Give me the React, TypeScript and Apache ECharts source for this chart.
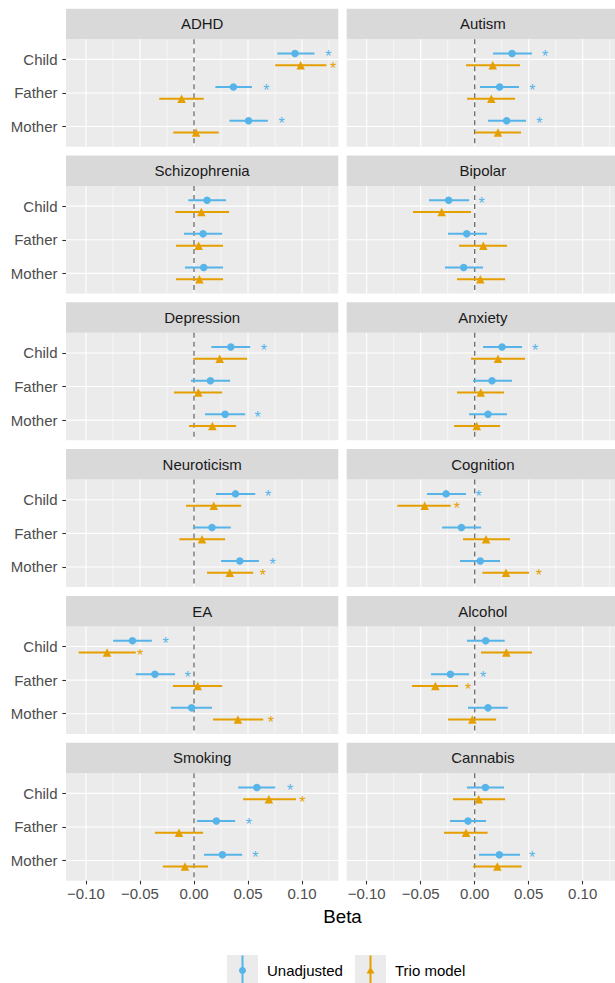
import React, { useEffect, useRef } from 'react';
import * as echarts from 'echarts';

const facets = ['ADHD', 'Autism', 'Schizophrenia', 'Bipolar', 'Depression', 'Anxiety', 'Neuroticism', 'Cognition', 'EA', 'Alcohol', 'Smoking', 'Cannabis'];
const roles = ['Child', 'Father', 'Mother'];
const seriesNames = ['Unadjusted', 'Trio model'];

// Unadjusted: estimate, lower, upper, asterisk position (null = not significant)
const unadjEst = [
  [0.0935, 0.0365, 0.0505], [0.0346, 0.0231, 0.0296], [0.0121, 0.0084, 0.009], [-0.0241, -0.0074, -0.0102],
  [0.0341, 0.0152, 0.0288], [0.0253, 0.016, 0.0123], [0.0384, 0.0167, 0.0424], [-0.0265, -0.0123, 0.0052],
  [-0.057, -0.0362, -0.0022], [0.0102, -0.0225, 0.0123], [0.0582, 0.0207, 0.0263], [0.0099, -0.0062, 0.0228],
];
const unadjLo = [
  [0.0771, 0.0198, 0.0328], [0.017, 0.0049, 0.0123], [-0.0053, -0.0093, -0.0084], [-0.0423, -0.0247, -0.0275],
  [0.0161, -0.0028, 0.0102], [0.0077, -0.0015, -0.0052], [0.0204, -0.0006, 0.0251], [-0.0441, -0.0302, -0.0136],
  [-0.0749, -0.0539, -0.0214], [-0.0071, -0.0404, -0.0062], [0.0409, 0.0028, 0.0093], [-0.0071, -0.0228, 0.004],
];
const unadjHi = [
  [0.1115, 0.0536, 0.0684], [0.0531, 0.041, 0.0475], [0.0297, 0.026, 0.0269], [-0.0052, 0.0114, 0.0077],
  [0.052, 0.0334, 0.0474], [0.0438, 0.0346, 0.0299], [0.0567, 0.0341, 0.0601], [-0.008, 0.0059, 0.0235],
  [-0.039, -0.0176, 0.0167], [0.0278, -0.0052, 0.0306], [0.0752, 0.0381, 0.0446], [0.0272, 0.0105, 0.042],
];
const unadjStar = [
  [0.1245, 0.0669, 0.0811], [0.0651, 0.0534, 0.0599], [null, null, null], [0.0065, null, null],
  [0.0647, null, 0.0588], [0.0559, null, null], [0.0687, null, 0.0728], [0.0037, null, null],
  [-0.0263, -0.0059, null], [null, 0.0077, null], [0.0889, 0.0508, 0.0567], [null, null, 0.0531],
];

// Trio model
const trioEst = [
  [0.0988, -0.0115, 0.0019], [0.0167, 0.0154, 0.0216], [0.0068, 0.0043, 0.005], [-0.0306, 0.008, 0.0052],
  [0.0238, 0.004, 0.017], [0.0216, 0.0056, 0.0019], [0.0183, 0.0074, 0.0331], [-0.0463, 0.0105, 0.029],
  [-0.0805, 0.0034, 0.0406], [0.0293, -0.0364, -0.0022], [0.0693, -0.0139, -0.0084], [0.0037, -0.008, 0.021],
];
const trioLo = [
  [0.0752, -0.0322, -0.0192], [-0.008, -0.0071, 0.0003], [-0.0173, -0.0167, -0.0167], [-0.0571, -0.0145, -0.0164],
  [-0.0006, -0.0186, -0.0046], [-0.0034, -0.0164, -0.0191], [-0.0074, -0.0136, 0.0121], [-0.0716, -0.0108, 0.0071],
  [-0.1068, -0.0195, 0.0176], [0.0059, -0.058, -0.0247], [0.0455, -0.0362, -0.0288], [-0.0201, -0.0284, -0.0015],
];
const trioHi = [
  [0.1226, 0.009, 0.0229], [0.042, 0.0373, 0.0429], [0.0325, 0.0269, 0.0269], [-0.0034, 0.0299, 0.0281],
  [0.0492, 0.026, 0.039], [0.0466, 0.0272, 0.0235], [0.0437, 0.0288, 0.0548], [-0.0222, 0.0327, 0.0503],
  [-0.0539, 0.026, 0.0641], [0.0531, -0.0154, 0.0198], [0.0944, 0.0084, 0.013], [0.0281, 0.012, 0.0435],
];
const trioStar = [
  [0.1288, null, null], [null, null, null], [null, null, null], [null, null, null],
  [null, null, null], [null, null, null], [null, null, 0.0638], [-0.0164, null, 0.0593],
  [-0.0498, null, 0.0712], [null, -0.0062, null], [0.1003, null, null], [null, null, null],
];

const xMajor = [-0.1, -0.05, 0, 0.05, 0.1];
const xMinor = [-0.075, -0.025, 0.025, 0.075, 0.125];
const yTicks = [1, 2, 3];

const BLUE = '#56B4E9';
const ORANGE = '#E69F00';
const FONT = '"Liberation Sans", Arial, Helvetica, sans-serif';

const X_MIN = -0.1185;
const X_MAX = 0.1336;
const Y_MIN = 0.4;
const Y_MAX = 3.6;
const DODGE = 0.175;

const COL_LEFT = [66, 346.7];
const PANEL_W = 272.3;
const ROW0 = 8.7;
const ROW_STEP = 146.8;
const STRIP_H = 30.5;
const PANEL_H = 107.5;

const circleIcon = (() => {
  const cx = 3.5, cy = 15, r = 3.5, k = 0.5523 * r;
  return `path://M2.5,0H4.5V30H2.5Z M${cx},${cy - r} C${cx + k},${cy - r} ${cx + r},${cy - k} ${cx + r},${cy} C${cx + r},${cy + k} ${cx + k},${cy + r} ${cx},${cy + r} C${cx - k},${cy + r} ${cx - r},${cy + k} ${cx - r},${cy} C${cx - r},${cy - k} ${cx - k},${cy - r} ${cx},${cy - r} Z`;
})();
const triangleIcon = 'path://M3,0H5V30H3Z M4,11 L8,18 L0,18 Z';

function fmtX(v: number) {
  if (Math.abs(v) < 1e-9) return '0.00';
  return v.toFixed(2).replace('-', '\u2212');
}

function buildOption() {
  const grid: any[] = [];
  const xAxis: any[] = [];
  const yAxis: any[] = [];
  const series: any[] = [];
  const graphic: any[] = [];

  facets.forEach((name, k) => {
    const row = Math.floor(k / 2);
    const col = k % 2;
    const stripTop = ROW0 + row * ROW_STEP;
    const left = COL_LEFT[col];
    grid.push({
      left, top: stripTop + STRIP_H, width: PANEL_W, height: PANEL_H,
      show: true, backgroundColor: '#EBEBEB', borderWidth: 0, containLabel: false, outerBoundsMode: 'none',
    });
    xAxis.push({
      gridIndex: k, type: 'value', min: X_MIN, max: X_MAX,
      axisLine: { show: false, onZero: false },
      splitLine: { show: false },
      axisTick: { show: row === 5, customValues: xMajor, length: 3.7, lineStyle: { color: '#333333', width: 1.1 } },
      axisLabel: { show: row === 5, customValues: xMajor, formatter: fmtX, color: '#4D4D4D', fontSize: 15, fontFamily: FONT, margin: 5 },
    });
    yAxis.push({
      gridIndex: k, type: 'value', inverse: true, min: Y_MIN, max: Y_MAX,
      axisLine: { show: false, onZero: false },
      splitLine: { show: false },
      axisTick: { show: col === 0, customValues: yTicks, length: 3.7, lineStyle: { color: '#333333', width: 1.1 } },
      axisLabel: {
        show: col === 0, customValues: yTicks,
        formatter: (v: number) => roles[Math.round(v) - 1] ?? '',
        color: '#4D4D4D', fontSize: 15, fontFamily: FONT, margin: 8.5,
      },
    });

    // strip
    graphic.push({
      type: 'rect', z: 0,
      shape: { x: left, y: stripTop, width: PANEL_W, height: STRIP_H },
      style: { fill: '#D9D9D9' },
    });
    graphic.push({
      type: 'text', z: 1, x: left + PANEL_W / 2, y: stripTop + STRIP_H / 2,
      style: { text: name, fill: '#1A1A1A', fontSize: 15, fontFamily: FONT, align: 'center', verticalAlign: 'middle' },
    });

    // gridlines + zero reference line
    series.push({
      type: 'custom', xAxisIndex: k, yAxisIndex: k, silent: true, z: 1,
      data: [[0, 2]],
      renderItem: (_p: any, api: any) => {
        const children: any[] = [];
        const vline = (v: number, w: number) => {
          const a = api.coord([v, Y_MIN]);
          const b = api.coord([v, Y_MAX]);
          children.push({ type: 'line', shape: { x1: a[0], y1: a[1], x2: b[0], y2: b[1] }, style: { stroke: '#FFFFFF', lineWidth: w } });
        };
        xMinor.forEach((v) => vline(v, 0.55));
        xMajor.forEach((v) => vline(v, 1.1));
        yTicks.forEach((v) => {
          const a = api.coord([X_MIN, v]);
          const b = api.coord([X_MAX, v]);
          children.push({ type: 'line', shape: { x1: a[0], y1: a[1], x2: b[0], y2: b[1] }, style: { stroke: '#FFFFFF', lineWidth: 1.1 } });
        });
        const a = api.coord([0, Y_MIN]);
        const b = api.coord([0, Y_MAX]);
        children.push({ type: 'line', shape: { x1: a[0], y1: a[1], x2: b[0], y2: b[1] }, style: { stroke: '#6B6B6B', lineWidth: 1.3, lineDash: [5, 4] } });
        return { type: 'group', children };
      },
    });

    const groups = [
      { est: unadjEst[k], lo: unadjLo[k], hi: unadjHi[k], star: unadjStar[k], off: -DODGE, color: BLUE, symbol: 'circle', size: 7.5, name: seriesNames[0] },
      { est: trioEst[k], lo: trioLo[k], hi: trioHi[k], star: trioStar[k], off: DODGE, color: ORANGE, symbol: 'triangle', size: 8.5, name: seriesNames[1] },
    ];
    groups.forEach((g) => {
      series.push({
        type: 'custom', name: g.name, xAxisIndex: k, yAxisIndex: k, silent: true, z: 2,
        encode: { x: [0, 1], y: 2 },
        data: roles.map((_r, i) => [g.lo[i], g.hi[i], i + 1 + g.off]),
        itemStyle: { color: g.color },
        renderItem: (_p: any, api: any) => {
          const a = api.coord([api.value(0), api.value(2)]);
          const b = api.coord([api.value(1), api.value(2)]);
          return { type: 'line', shape: { x1: a[0], y1: a[1], x2: b[0], y2: b[1] }, style: { stroke: g.color, lineWidth: 2 } };
        },
      });
      series.push({
        type: 'scatter', name: g.name, xAxisIndex: k, yAxisIndex: k, z: 3,
        symbol: g.symbol, symbolSize: g.size,
        itemStyle: { color: g.color, opacity: 1 },
        data: roles.map((_r, i) => [g.est[i], i + 1 + g.off]),
      });
      const starData = roles
        .map((_r, i) => (g.star[i] == null ? null : [g.star[i], i + 1 + g.off]))
        .filter((d) => d !== null);
      series.push({
        type: 'custom', name: g.name, xAxisIndex: k, yAxisIndex: k, silent: true, z: 4,
        data: starData,
        itemStyle: { color: g.color },
        renderItem: (_p: any, api: any) => {
          const p = api.coord([api.value(0), api.value(1)]);
          return {
            type: 'text', x: p[0], y: p[1] + 3,
            style: { text: '*', fill: g.color, fontSize: 16, fontFamily: FONT, align: 'center', verticalAlign: 'middle' },
          };
        },
      });
    });
  });

  // axis title
  graphic.push({
    type: 'text', x: (COL_LEFT[0] + COL_LEFT[1] + PANEL_W) / 2, y: 916.7,
    style: { text: 'Beta', fill: '#000000', fontSize: 18.75, fontFamily: FONT, align: 'center', verticalAlign: 'middle' },
  });
  // legend key backgrounds
  graphic.push({ type: 'rect', z: 0, shape: { x: 227, y: 955, width: 31, height: 31 }, style: { fill: '#EBEBEB' } });
  graphic.push({ type: 'rect', z: 0, shape: { x: 355, y: 955, width: 31, height: 31 }, style: { fill: '#EBEBEB' } });

  const legend = [
    {
      data: [{ name: seriesNames[0], icon: circleIcon }], left: 239, top: 955.5, padding: 0, z: 5,
      itemWidth: 7, itemHeight: 30, selectedMode: false,
      textStyle: { fontSize: 15, color: '#000000', fontFamily: FONT, padding: [0, 0, 0, 16] },
    },
    {
      data: [{ name: seriesNames[1], icon: triangleIcon }], left: 366.5, top: 955.5, padding: 0, z: 5,
      itemWidth: 8, itemHeight: 30, selectedMode: false,
      textStyle: { fontSize: 15, color: '#000000', fontFamily: FONT, padding: [0, 0, 0, 15.5] },
    },
  ];

  return {
    animation: false,
    backgroundColor: '#FFFFFF',
    textStyle: { fontFamily: FONT },
    grid, xAxis, yAxis, series, graphic, legend,
  };
}

export default function App() {
  const ref = useRef<HTMLDivElement>(null);
  useEffect(() => {
    if (!ref.current) return;
    const chart = echarts.init(ref.current, null, { renderer: 'svg' });
    chart.setOption(buildOption() as any);
    return () => chart.dispose();
  }, []);
  return <div ref={ref} style={{ position: 'fixed', left: 0, top: 0, width: 615, height: 983 }} />;
}
